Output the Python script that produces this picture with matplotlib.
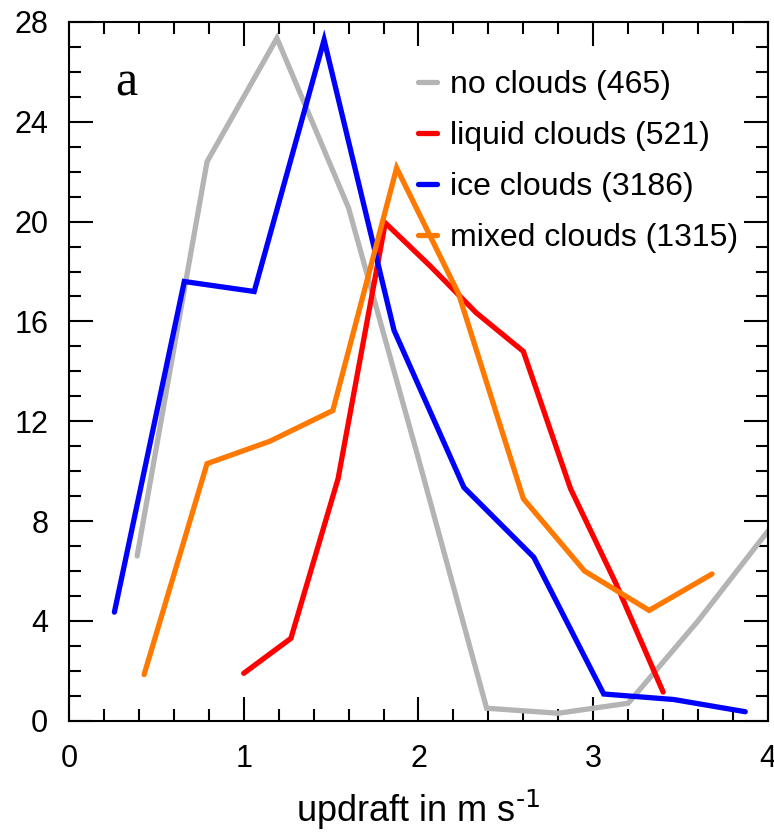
import numpy as np
import matplotlib.pyplot as plt
from matplotlib.ticker import MultipleLocator

# updraft bins (m/s) and frequencies for each cloud class
x_none = [0.39, 0.79, 1.19, 1.6, 2.0, 2.39, 2.8, 3.2, 3.6, 4.0]
y_none = [6.6, 22.4, 27.35, 20.55, 10.5, 0.5, 0.3, 0.7, 4.0, 7.6]

x_liquid = [1.0, 1.27, 1.54, 1.81, 2.07, 2.33, 2.6, 2.87, 3.13, 3.4]
y_liquid = [1.9, 3.3, 9.7, 19.95, 18.2, 16.35, 14.8, 9.3, 5.5, 1.15]

x_ice = [0.26, 0.66, 1.06, 1.46, 1.86, 2.26, 2.66, 3.06, 3.46, 3.87]
y_ice = [4.35, 17.6, 17.2, 27.28, 15.65, 9.35, 6.55, 1.07, 0.85, 0.36]

x_mixed = [0.43, 0.79, 1.15, 1.51, 1.875, 2.23, 2.6, 2.95, 3.32, 3.68]
y_mixed = [1.85, 10.3, 11.2, 12.43, 22.15, 17.1, 8.9, 6.0, 4.42, 5.88]

labels = ["no clouds (465)", "liquid clouds (521)", "ice clouds (3186)", "mixed clouds (1315)"]
colors = ["#b4b4b4", "#ff0000", "#0000ff", "#ff7800"]

plt.rcParams['font.family'] = ['Liberation Sans', 'DejaVu Sans']

fig = plt.figure(figsize=(7.74, 8.33), dpi=100)
ax = fig.add_axes([0.0891, 0.1348, 0.9031, 0.8388])

series = [(x_none, y_none), (x_liquid, y_liquid), (x_ice, y_ice), (x_mixed, y_mixed)]
for (xs, ys), lab, c in zip(series, labels, colors):
    ax.plot(xs, ys, color=c, lw=3.8, label=lab, solid_capstyle='round', solid_joinstyle='miter')

ax.set_xlim(0, 4)
ax.set_ylim(0, 28)
ax.xaxis.set_major_locator(MultipleLocator(1))
ax.xaxis.set_minor_locator(MultipleLocator(0.2))
ax.yaxis.set_major_locator(MultipleLocator(4))
ax.yaxis.set_minor_locator(MultipleLocator(1))
ax.tick_params(which='both', direction='in', top=True, right=True, width=1.5)
ax.tick_params(which='major', length=17, labelsize=22)
ax.tick_params(which='minor', length=8.5)
ax.tick_params(axis='y', which='major', pad=15)
ax.tick_params(axis='x', which='major', pad=17)
for s in ax.spines.values():
    s.set_linewidth(1.5)

ax.set_xlabel("updraft in m s$^{\\text{-1}}$", fontsize=26, labelpad=10)

ax.text(0.066, 0.8955, "a", transform=ax.transAxes, fontsize=36,
        family='Liberation Serif')

ax.legend(loc='upper left', bbox_to_anchor=(0.499, 0.931), frameon=False,
          fontsize=23, handlelength=0.6, handletextpad=0.42,
          labelspacing=0.655, borderpad=0, borderaxespad=0)

fig.savefig("out.png", dpi=100)
